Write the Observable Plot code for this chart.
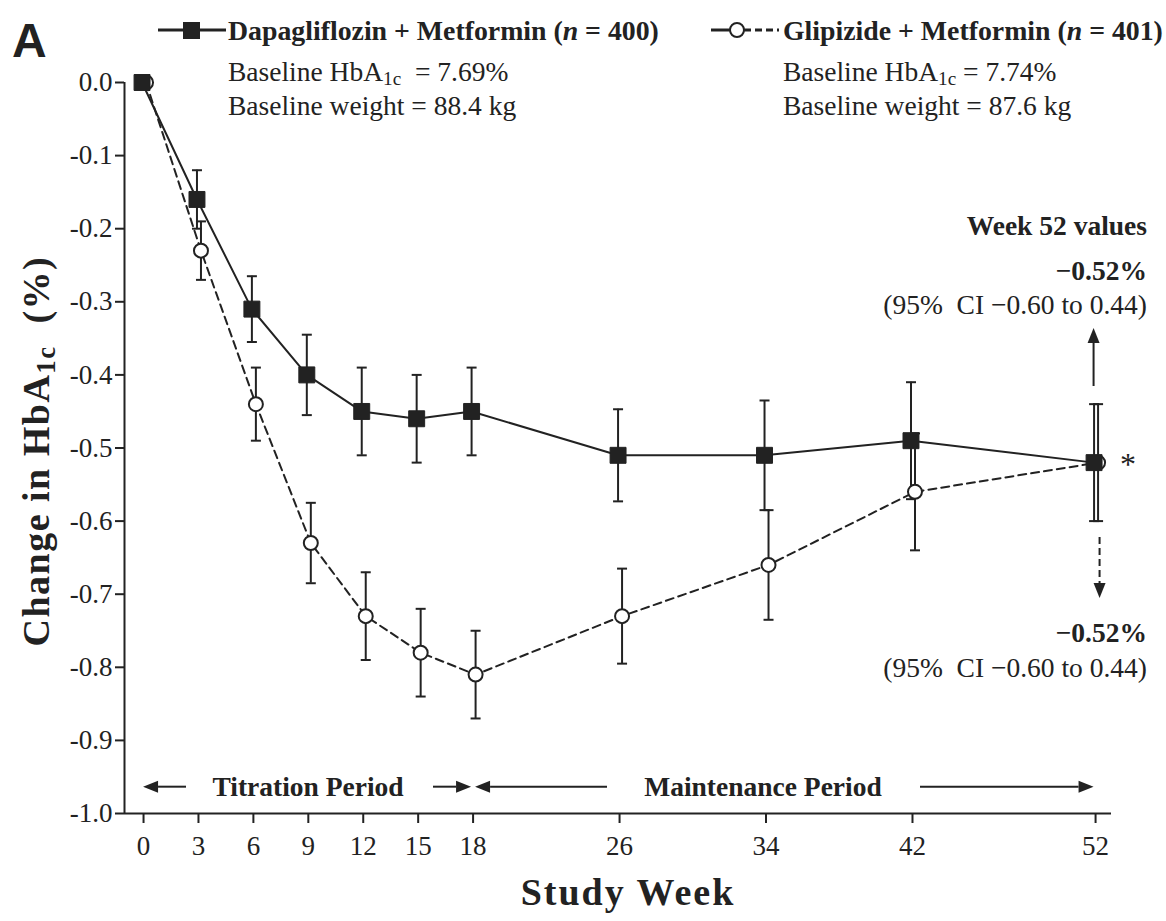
<!DOCTYPE html>
<html>
<head>
<meta charset="utf-8">
<script src="https://cdn.jsdelivr.net/npm/d3@7"></script>
<script src="https://cdn.jsdelivr.net/npm/@observablehq/plot@0.6"></script>
<style>
  body { margin: 0; background: #fff; }
  #chart svg { display: block; }
</style>
</head>
<body>
<div id="chart"></div>
<script>
// Study weeks at which HbA1c was measured
const weeks = [0, 3, 6, 9, 12, 15, 18, 26, 34, 42, 52];

// Mean change from baseline in HbA1c (%) and half-width of the 95% CI
const dapaChange = [0, -0.16, -0.31, -0.40, -0.45, -0.46, -0.45, -0.51, -0.51, -0.49, -0.52];
const dapaCI     = [0,  0.04, 0.045, 0.055, 0.06,  0.06,  0.06,  0.063, 0.075, 0.08,  0.08];
const glipChange = [0, -0.23, -0.44, -0.63, -0.73, -0.78, -0.81, -0.73, -0.66, -0.56, -0.52];
const glipCI     = [0,  0.04, 0.05,  0.055, 0.06,  0.06,  0.06,  0.065, 0.075, 0.08,  0.08];

// Axis ticks
const yTicks = [0, -0.1, -0.2, -0.3, -0.4, -0.5, -0.6, -0.7, -0.8, -0.9, -1.0];
const yTickLabels = ["0.0", "-0.1", "-0.2", "-0.3", "-0.4", "-0.5", "-0.6", "-0.7", "-0.8", "-0.9", "-1.0"];
const xTickLabels = ["0", "3", "6", "9", "12", "15", "18", "26", "34", "42", "52"];

const ink = "#222";
const serif = "'Liberation Serif', 'Times New Roman', serif";
const xDomain = [-1.04, 52.87];
const yDomain = [-1, 0];

const rows = (change, ci) => weeks.map((w, i) => ({
  week: w, change: change[i], lo: change[i] - ci[i], hi: change[i] + ci[i], ci: ci[i]
}));
const dapa = rows(dapaChange, dapaCI);
const glip = rows(glipChange, glipCI);
const dapaBars = dapa.filter(d => d.ci > 0);
const glipBars = glip.filter(d => d.ci > 0);

// Horizontal cap drawn at each end of an error bar
const cap = {
  draw(ctx, size) {
    const w = Math.sqrt(size / Math.PI);
    ctx.moveTo(-w, 0);
    ctx.lineTo(w, 0);
  }
};

const dxDapa = -1.5, dxGlip = 2.5;

const errorBars = (data, dx) => [
  Plot.ruleX(data, {x: "week", y1: "lo", y2: "hi", dx, stroke: ink, strokeWidth: 2}),
  Plot.dot(data, {x: "week", y: "lo", dx, symbol: cap, r: 5, fill: "none", stroke: ink, strokeWidth: 2}),
  Plot.dot(data, {x: "week", y: "hi", dx, symbol: cap, r: 5, fill: "none", stroke: ink, strokeWidth: 2})
];

const chart = Plot.plot({
  width: 1166,
  height: 921,
  marginLeft: 124,
  marginRight: 55,
  marginTop: 82,
  marginBottom: 108,
  style: {fontFamily: serif, fontSize: "27px", color: ink, background: "#fff"},
  x: {domain: xDomain},
  y: {domain: yDomain},
  marks: [
    // axis lines
    Plot.ruleX([xDomain[0]], {y1: yDomain[0], y2: yDomain[1], stroke: ink, strokeWidth: 2}),
    Plot.ruleY([yDomain[0]], {x1: xDomain[0], x2: xDomain[1], stroke: ink, strokeWidth: 2}),
    Plot.axisY({
      ticks: yTicks,
      tickFormat: d => yTickLabels[yTicks.findIndex(t => Math.abs(t - d) < 1e-9)],
      tickSize: 9, tickPadding: 3, strokeWidth: 2, label: null
    }),
    Plot.axisX({
      ticks: weeks,
      tickFormat: d => xTickLabels[weeks.indexOf(d)],
      tickSize: 10, tickPadding: 12, strokeWidth: 2, label: null
    }),
    // series lines
    Plot.line(glip, {x: "week", y: "change", dx: dxGlip, stroke: ink, strokeWidth: 2, strokeDasharray: "8,5"}),
    Plot.line(dapa, {x: "week", y: "change", dx: dxDapa, stroke: ink, strokeWidth: 2}),
    // 95% CI bars
    ...errorBars(glipBars, dxGlip),
    ...errorBars(dapaBars, dxDapa),
    // markers
    Plot.dot(glip, {x: "week", y: "change", dx: dxGlip, symbol: "circle", r: 7, fill: "#fff", stroke: ink, strokeWidth: 2}),
    Plot.dot(dapa, {x: "week", y: "change", dx: dxDapa, symbol: "square", r: 9, fill: ink, stroke: ink, strokeWidth: 1})
  ]
});

document.getElementById("chart").appendChild(chart);

// ---- annotations: panel letter, legend, axis titles, period arrows, week-52 notes ----
const sx = chart.scale("x"), sy = chart.scale("y");
const X = v => sx.apply(v), Y = v => sy.apply(v);
const svg = d3.select(chart);
const g = svg.append("g").attr("fill", ink).attr("font-family", serif).attr("text-anchor", "start");

function rich(x, y, parts, {anchor = "start", size = 27.5, weight = "normal", spacing = null} = {}) {
  const t = g.append("text")
    .attr("x", x).attr("y", y)
    .attr("text-anchor", anchor)
    .attr("font-size", size)
    .attr("font-weight", weight)
    .attr("dy", "0.35em");
  if (spacing != null) t.attr("letter-spacing", spacing);
  for (const p of parts) {
    const s = t.append("tspan").text(p.t);
    if (p.italic) s.attr("font-style", "italic");
    if (p.sub) s.attr("font-size", size * 0.7).attr("dy", size * 0.16);
    if (p.up) s.attr("dy", -size * 0.16);
  }
  return t;
}

function arrow(x1, y1, x2, y2, {dash = null, head = 15, half = 6} = {}) {
  const a = Math.atan2(y2 - y1, x2 - x1);
  const bx = x2 - head * Math.cos(a), by = y2 - head * Math.sin(a);
  const line = g.append("line")
    .attr("x1", x1).attr("y1", y1).attr("x2", bx).attr("y2", by)
    .attr("stroke", ink).attr("stroke-width", 2);
  if (dash) line.attr("stroke-dasharray", dash);
  const px = -Math.sin(a) * half, py = Math.cos(a) * half;
  g.append("path")
    .attr("d", `M${x2},${y2}L${bx + px},${by + py}L${bx - px},${by - py}Z`)
    .attr("fill", ink);
}

// panel letter
g.append("text").attr("x", 12).attr("y", 57)
  .attr("text-anchor", "start")
  .attr("font-family", "'Liberation Sans', Arial, sans-serif")
  .attr("font-weight", "bold").attr("font-size", 48).text("A");

// legend: dapagliflozin
g.append("line").attr("x1", 158).attr("x2", 226).attr("y1", 30).attr("y2", 30)
  .attr("stroke", ink).attr("stroke-width", 3);
g.append("rect").attr("x", 183).attr("y", 22).attr("width", 17).attr("height", 17).attr("fill", ink);
rich(228, 30, [{t: "Dapagliflozin + Metformin ("}, {t: "n", italic: true}, {t: " = 400)"}], {weight: "bold", size: 27.8});
rich(228, 71, [{t: "Baseline HbA"}, {t: "1c", sub: true}, {t: "  = 7.69%", up: true}]);
rich(228, 105, [{t: "Baseline weight = 88.4 kg"}]);

// legend: glipizide
g.append("line").attr("x1", 711).attr("x2", 730).attr("y1", 30).attr("y2", 30)
  .attr("stroke", ink).attr("stroke-width", 3);
g.append("line").attr("x1", 744).attr("x2", 779).attr("y1", 30).attr("y2", 30)
  .attr("stroke", ink).attr("stroke-width", 3).attr("stroke-dasharray", "7,4");
g.append("circle").attr("cx", 737).attr("cy", 30).attr("r", 7)
  .attr("fill", "#fff").attr("stroke", ink).attr("stroke-width", 2);
rich(783, 30, [{t: "Glipizide + Metformin ("}, {t: "n", italic: true}, {t: " = 401)"}], {weight: "bold", size: 27.8});
rich(783, 71, [{t: "Baseline HbA"}, {t: "1c", sub: true}, {t: " = 7.74%", up: true}]);
rich(783, 105, [{t: "Baseline weight = 87.6 kg"}]);

// axis titles
rich(628, 892, [{t: "Study Week"}], {anchor: "middle", size: 38, weight: "bold", spacing: 2});
const yt = rich(0, 0, [{t: "Change in HbA"}, {t: "1c", sub: true}, {t: "  (%)", up: true}],
  {anchor: "middle", size: 38, weight: "bold", spacing: 1.5});
yt.attr("transform", `translate(36,${Y(-0.505)}) rotate(-90)`);

// study periods
const yp = Y(-0.964);
rich(308, yp, [{t: "Titration Period"}], {anchor: "middle", weight: "bold"});
rich(763, yp, [{t: "Maintenance Period"}], {anchor: "middle", weight: "bold"});
arrow(186, yp, X(0), yp);
arrow(433, yp, X(18) - 1.5, yp);
arrow(607, yp, X(18) + 2.5, yp);
arrow(920, yp, X(52) - 1.5, yp);

// week 52 values
const rx = 1147;
rich(rx, 225, [{t: "Week 52 values"}], {anchor: "end", weight: "bold"});
rich(rx, 270, [{t: "\u22120.52%"}], {anchor: "end", weight: "bold"});
rich(rx, 304, [{t: "(95%  CI \u22120.60 to 0.44)"}], {anchor: "end"});
rich(rx, 632, [{t: "\u22120.52%"}], {anchor: "end", weight: "bold"});
rich(rx, 667, [{t: "(95%  CI \u22120.60 to 0.44)"}], {anchor: "end"});
rich(X(52) + 33, Y(-0.52) + 2, [{t: "*"}], {anchor: "middle", size: 32});
arrow(X(52) + dxDapa, 386, X(52) + dxDapa, 328);
arrow(X(52) + dxGlip + 2, 537, X(52) + dxGlip + 2, 598, {dash: "7,4"});
</script>
</body>
</html>
